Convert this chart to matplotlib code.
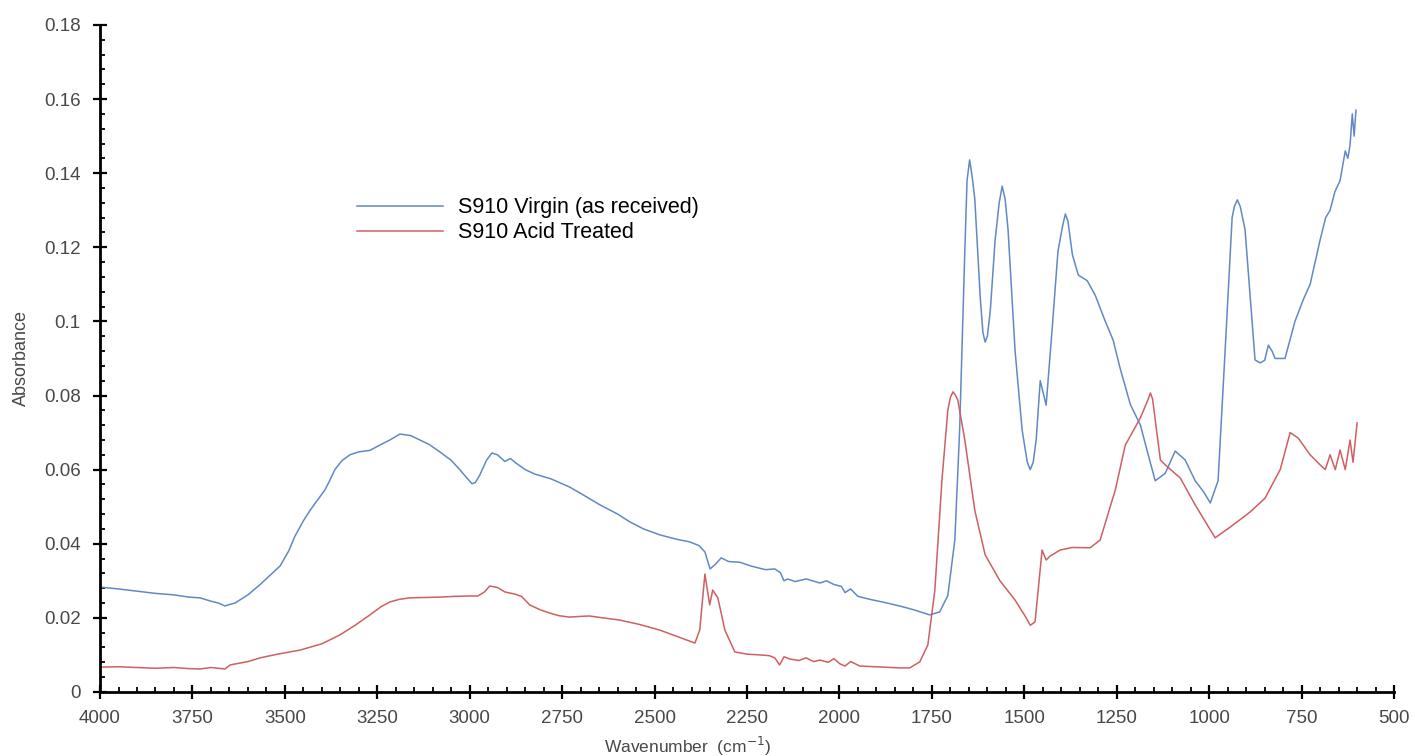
import numpy as np
import matplotlib
matplotlib.use("Agg")
import matplotlib.pyplot as plt
from matplotlib.ticker import MultipleLocator, FuncFormatter

plt.rcParams['font.family'] = ['Liberation Sans', 'DejaVu Sans']

# S910 virgin (as received) spectrum: wavenumber (cm-1), absorbance
virgin_wn = [4000, 3950, 3900, 3850, 3800, 3760, 3730, 3700, 3680, 3662, 3650, 3635,
             3600, 3567, 3540, 3513, 3490, 3473, 3450, 3432, 3410, 3392, 3380, 3365,
             3345, 3324, 3300, 3270, 3240, 3216, 3189, 3160, 3135, 3110, 3081, 3050,
             3027, 3010, 2994, 2985, 2973, 2955, 2940, 2925, 2905, 2890, 2878, 2850,
             2824, 2780, 2730, 2690, 2648, 2600, 2567, 2530, 2486, 2440, 2405, 2380,
             2364, 2350, 2335, 2320, 2300, 2269, 2240, 2200, 2175, 2160, 2150, 2140,
             2120, 2090, 2053, 2035, 2015, 1995, 1985, 1970, 1950, 1918, 1880, 1837,
             1800, 1756, 1729, 1707, 1688, 1675, 1661, 1655, 1648, 1641, 1634, 1619,
             1612, 1606, 1600, 1592, 1579, 1568, 1560, 1552, 1544, 1525, 1506, 1492,
             1484, 1476, 1468, 1457, 1441, 1425, 1409, 1396, 1389, 1382, 1370, 1354,
             1330, 1308, 1281, 1260, 1240, 1213, 1186, 1165, 1146, 1119, 1092, 1065,
             1038, 1015, 997, 976, 957, 938, 932, 924, 916, 903, 876, 862, 850, 840,
             830, 822, 795, 768, 745, 727, 700, 685, 673, 660, 646, 632, 625, 619, 613,
             608, 603]
virgin_abs = [0.0283, 0.0278, 0.0272, 0.0266, 0.0262, 0.0256, 0.0254, 0.0245, 0.0240,
              0.0232, 0.0236, 0.0240, 0.0262, 0.0290, 0.0315, 0.0340, 0.0380, 0.0420,
              0.0462, 0.0490, 0.0520, 0.0545, 0.0568, 0.0600, 0.0625, 0.0640, 0.0648,
              0.0652, 0.0668, 0.0680, 0.0696, 0.0692, 0.0680, 0.0668, 0.0648, 0.0625,
              0.0600, 0.0580, 0.0562, 0.0565, 0.0585, 0.0625, 0.0645, 0.0640, 0.0622,
              0.0630, 0.0620, 0.0600, 0.0588, 0.0575, 0.0553, 0.0530, 0.0505, 0.0480,
              0.0459, 0.0440, 0.0424, 0.0412, 0.0405, 0.0395, 0.0378, 0.0332, 0.0345,
              0.0362, 0.0352, 0.0350, 0.0340, 0.0330, 0.0332, 0.0322, 0.0300, 0.0305,
              0.0298, 0.0305, 0.0294, 0.0300, 0.0290, 0.0285, 0.0268, 0.0278, 0.0258,
              0.0250, 0.0242, 0.0232, 0.0222, 0.0208, 0.0216, 0.0260, 0.0410, 0.0707,
              0.1190, 0.1380, 0.1436, 0.1390, 0.1330, 0.1060, 0.0970, 0.0944, 0.0960,
              0.1030, 0.1220, 0.1320, 0.1365, 0.1330, 0.1247, 0.0920, 0.0707, 0.0620,
              0.0600, 0.0620, 0.0680, 0.0840, 0.0774, 0.0977, 0.1190, 0.1260, 0.1290,
              0.1270, 0.1180, 0.1125, 0.1110, 0.1070, 0.1000, 0.0950, 0.0870, 0.0775,
              0.0720, 0.0640, 0.0570, 0.0590, 0.0650, 0.0626, 0.0570, 0.0540, 0.0510,
              0.0570, 0.0920, 0.1280, 0.1310, 0.1328, 0.1310, 0.1247, 0.0896, 0.0888,
              0.0895, 0.0936, 0.0920, 0.0900, 0.0900, 0.1000, 0.1060, 0.1100, 0.1220,
              0.1280, 0.1300, 0.1350, 0.1380, 0.1460, 0.1440, 0.1476, 0.1560, 0.1500,
              0.1570]

# S910 acid treated spectrum
acid_wn = [4000, 3950, 3900, 3850, 3800, 3760, 3730, 3700, 3680, 3662, 3648, 3600,
           3567, 3520, 3459, 3400, 3351, 3310, 3270, 3240, 3216, 3190, 3162, 3120,
           3081, 3040, 3000, 2978, 2960, 2946, 2925, 2905, 2878, 2860, 2838, 2810,
           2784, 2760, 2730, 2700, 2676, 2640, 2594, 2540, 2486, 2440, 2391, 2378,
           2364, 2351, 2343, 2329, 2310, 2283, 2250, 2215, 2190, 2175, 2162, 2150,
           2135, 2110, 2090, 2070, 2053, 2030, 2015, 1999, 1985, 1970, 1945, 1900,
           1860, 1837, 1810, 1783, 1761, 1742, 1723, 1707, 1700, 1693, 1686, 1680,
           1661, 1634, 1606, 1566, 1525, 1495, 1484, 1471, 1452, 1441, 1430, 1403,
           1370, 1322, 1295, 1254, 1227, 1186, 1165, 1159, 1153, 1146, 1132, 1119,
           1078, 1038, 997, 984, 943, 889, 849, 808, 781, 759, 727, 700, 686, 673,
           659, 646, 632, 619, 611, 600]
acid_abs = [0.0067, 0.0068, 0.0066, 0.0064, 0.0066, 0.0063, 0.0062, 0.0066, 0.0064,
            0.0062, 0.0073, 0.0082, 0.0092, 0.0102, 0.0113, 0.0130, 0.0154, 0.0180,
            0.0208, 0.0230, 0.0243, 0.0250, 0.0254, 0.0255, 0.0256, 0.0258, 0.0259,
            0.0259, 0.0270, 0.0286, 0.0282, 0.0270, 0.0264, 0.0258, 0.0235, 0.0222,
            0.0213, 0.0206, 0.0202, 0.0204, 0.0205, 0.0200, 0.0194, 0.0182, 0.0167,
            0.0150, 0.0132, 0.0167, 0.0318, 0.0235, 0.0275, 0.0254, 0.0167, 0.0108,
            0.0102, 0.0100, 0.0098, 0.0092, 0.0073, 0.0095, 0.0089, 0.0085, 0.0092,
            0.0082, 0.0086, 0.0080, 0.0090, 0.0076, 0.0070, 0.0082, 0.0070, 0.0068,
            0.0066, 0.0065, 0.0065, 0.0081, 0.0127, 0.0275, 0.0570, 0.0760, 0.0795,
            0.0810, 0.0800, 0.0788, 0.0680, 0.0490, 0.0370, 0.0300, 0.0248, 0.0200,
            0.0180, 0.0189, 0.0383, 0.0356, 0.0367, 0.0383, 0.0390, 0.0389, 0.0410,
            0.0545, 0.0666, 0.0740, 0.0790, 0.0807, 0.0790, 0.0734, 0.0626, 0.0613,
            0.0577, 0.0505, 0.0437, 0.0416, 0.0445, 0.0486, 0.0523, 0.0600, 0.0700,
            0.0685, 0.0640, 0.0613, 0.0600, 0.0640, 0.0600, 0.0653, 0.0600, 0.0680,
            0.0620, 0.0726]

fig = plt.figure(figsize=(14.15, 7.56), dpi=100)
ax = fig.add_axes([0.0707, 0.0847, 0.9145, 0.8823])

ax.plot(virgin_wn, virgin_abs, color='#6089c6', lw=1.1, label='S910 Virgin (as received)')
ax.plot(acid_wn, acid_abs, color='#cf5f62', lw=1.1, label='S910 Acid Treated')

ax.set_xlim(4000, 500)
ax.set_ylim(0, 0.18)

for side in ['top', 'right']:
    ax.spines[side].set_visible(False)
for side in ['left', 'bottom']:
    ax.spines[side].set_linewidth(2.0)

ax.xaxis.set_major_locator(MultipleLocator(250))
ax.xaxis.set_minor_locator(MultipleLocator(50))
ax.yaxis.set_major_locator(MultipleLocator(0.02))
ax.yaxis.set_minor_locator(MultipleLocator(0.004))
ax.yaxis.set_major_formatter(FuncFormatter(lambda v, p: f"{v:g}"))

ax.tick_params(which='major', direction='inout', length=10, width=1.6,
               labelsize=13.5, labelcolor='#484848')
ax.tick_params(axis='x', which='major', pad=8)
ax.tick_params(axis='y', which='major', pad=9)
ax.tick_params(which='minor', direction='in', length=3.5, width=1.3)

ax.set_xlabel('Wavenumber  (cm$^{-1}$)', fontsize=12.5, color='#484848')
ax.xaxis.set_label_coords(0.454, -0.064)
ax.set_ylabel('Absorbance', fontsize=13, color='#484848')
ax.yaxis.set_label_coords(-0.054, 0.5)

ax.legend(loc='upper left', bbox_to_anchor=(0.1986, 0.742), frameon=False,
          fontsize=15.5, handlelength=4.0, handletextpad=0.7, labelspacing=0.2,
          borderpad=0, borderaxespad=0)

fig.savefig('out.png', dpi=100, facecolor='white')
